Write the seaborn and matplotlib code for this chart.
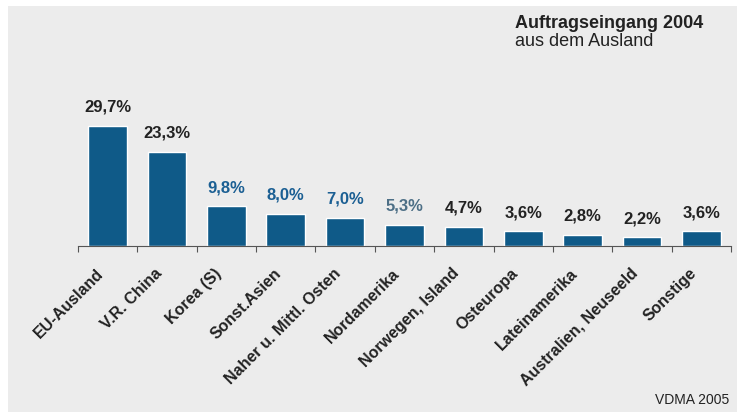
import matplotlib
matplotlib.use("Agg")
import matplotlib.pyplot as plt
import matplotlib.transforms as mtrans
import seaborn as sns
import pandas as pd
from matplotlib.patches import Rectangle

categories = ["EU-Ausland", "V.R. China", "Korea (S)", "Sonst.Asien", "Naher u. Mittl. Osten",
              "Nordamerika", "Norwegen, Island", "Osteuropa", "Lateinamerika",
              "Australien, Neuseeld", "Sonstige"]
values = [29.7, 23.3, 9.8, 8.0, 7.0, 5.3, 4.7, 3.6, 2.8, 2.2, 3.6]
labels = ["29,7%", "23,3%", "9,8%", "8,0%", "7,0%", "5,3%", "4,7%", "3,6%", "2,8%", "2,2%", "3,6%"]
label_colors = ["#222222", "#222222", "#1b5f93", "#1b5f93", "#1b5f93", "#4d6f86",
                "#222222", "#222222", "#222222", "#222222", "#222222"]

df = pd.DataFrame({"cat": categories, "val": values})

sns.set_theme(style="white")
plt.rcParams['font.family'] = ['Liberation Sans', 'DejaVu Sans']

W, H = 737, 412
fig = plt.figure(figsize=(W / 100, H / 100), dpi=100)
fig.patch.set_facecolor("white")
fig.patches.append(Rectangle((8 / W, 0), 1 - 8 / W, 1 - 6 / H, transform=fig.transFigure,
                             facecolor="#ececec", edgecolor="none", zorder=-10))

left, right, base, top = 78, 731, 246, 20
ax = fig.add_axes([left / W, 1 - base / H, (right - left) / W, (base - top) / H])
ax.set_facecolor("none")
ax.set_zorder(5)

sns.barplot(data=df, x="cat", y="val", color="#0f5a88", saturation=1, width=0.65, ax=ax)
ax.set_xlim(-0.5, len(categories) - 0.5)
ax.set_ylim(0, (base - top) / 4.04)

for i, (v, lab, c) in enumerate(zip(values, labels, label_colors)):
    ax.annotate(lab, (i, v), xytext=(0, 8), textcoords="offset points",
                ha="center", va="bottom", fontsize=12, fontweight="bold", color=c)

for s in ["top", "right", "left"]:
    ax.spines[s].set_visible(False)
ax.spines["bottom"].set_color("#555555")
ax.spines["bottom"].set_linewidth(0.8)
ax.set_yticks([])
ax.set_xlabel("")
ax.set_ylabel("")

ax.set_xticks([i + 0.5 for i in range(-1, len(categories))], minor=True)
ax.tick_params(axis="x", which="minor", length=4, width=0.8, color="#555555", direction="out", bottom=True)
ax.tick_params(axis="x", which="major", length=0, pad=0)
ax.set_xticks(range(len(categories)))
ax.set_xticklabels(categories, rotation=45, ha="right", va="center", rotation_mode="anchor",
                   fontsize=11.5, fontweight="bold", color="#222222")
offset = mtrans.ScaledTranslation(-7 / 100, -25 / 100, fig.dpi_scale_trans)
for t in ax.get_xticklabels():
    t.set_transform(t.get_transform() + offset)

fig.text(515 / W, 1 - 23 / H, "Auftragseingang 2004", fontsize=13, fontweight="bold",
         color="#222222", va="center", ha="left")
fig.text(515 / W, 1 - 41 / H, "aus dem Ausland", fontsize=13, color="#222222", va="center", ha="left")
fig.text(655 / W, 1 - 400 / H, "VDMA 2005", fontsize=10, color="#222222", va="center", ha="left")

fig.savefig("out.png", dpi=100, facecolor=fig.get_facecolor())
